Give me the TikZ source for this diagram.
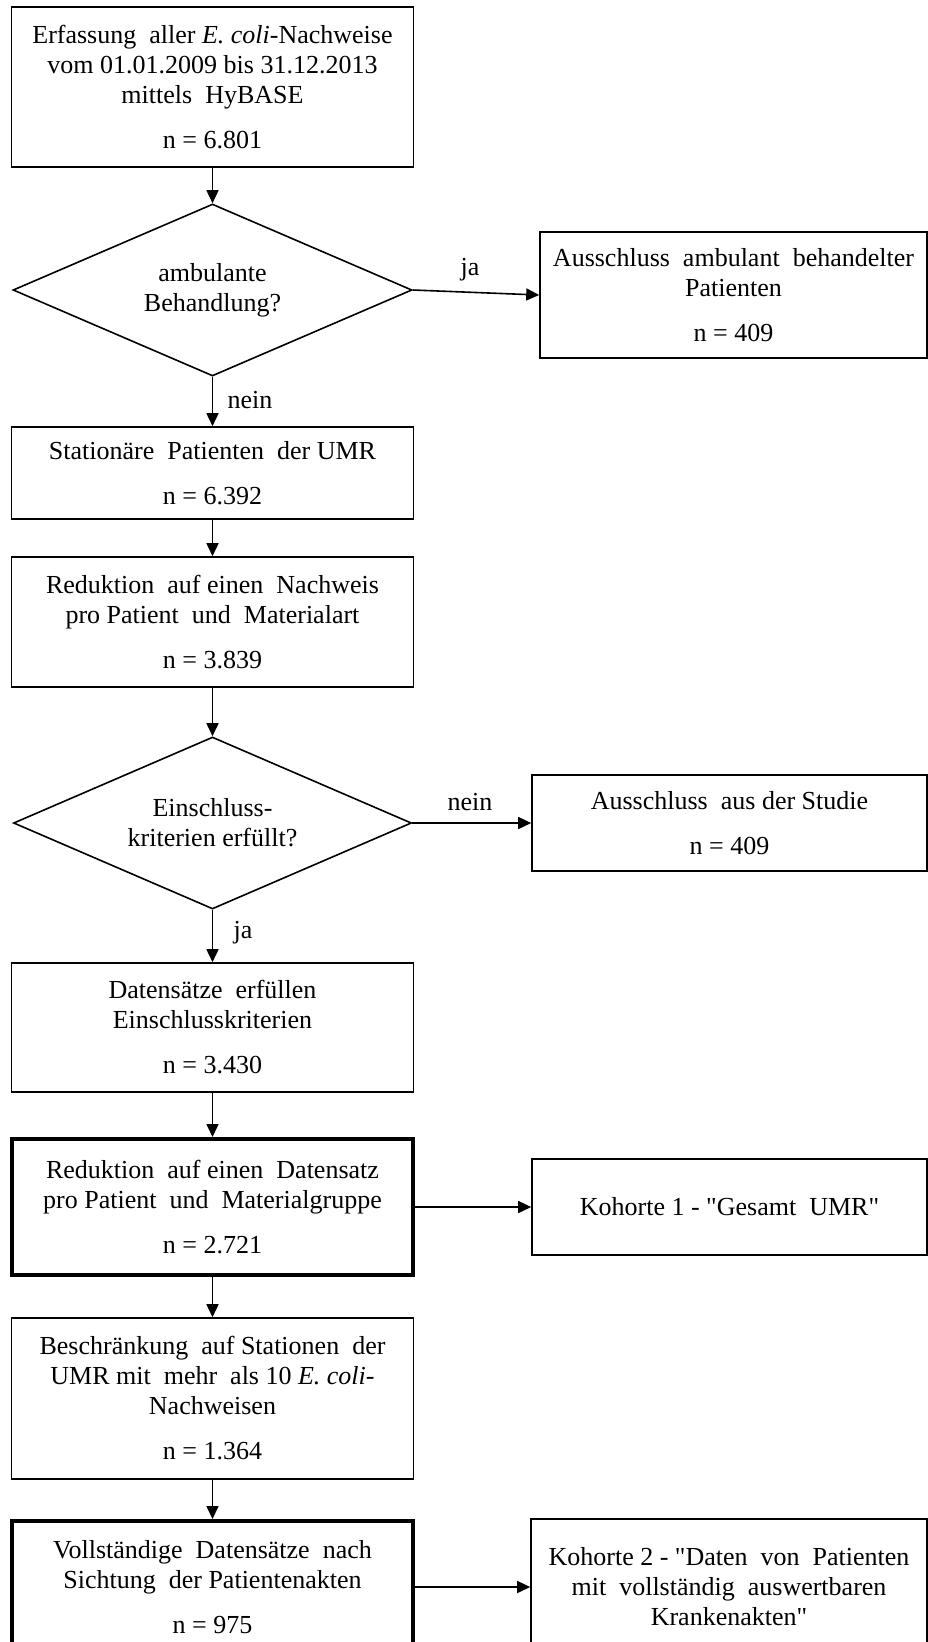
\documentclass[tikz,border=0pt]{standalone}
\usepackage{fontspec}
\setmainfont{Liberation Serif}
\newfontfamily\qfont{Liberation Serif}[Ligatures=TeXOff]
\usetikzlibrary{shapes.geometric,arrows.meta}
\newcommand{\sq}{{\qfont"}}
\tikzset{
  txt/.style={font=\fontsize{26}{30}\selectfont},
  box/.style={txt, draw, rectangle, line width=1.6pt, inner sep=0pt, align=center},
  thickbox/.style={box, line width=4pt},
  dec/.style={txt, draw, diamond, shape aspect=2.32, line width=1.6pt, inner sep=0pt, align=center},
  arr/.style={line width=1.6pt, -{Triangle[length=13pt,width=12pt]}},
  lab/.style={txt, inner sep=0pt}
}
\begin{document}
\begin{tikzpicture}[x=1pt,y=-1pt]
\useasboundingbox (0,0) rectangle (928,1642);
\clip (0,0) rectangle (928,1642);
\fill[white] (0,0) rectangle (928,1642);

% left column
\node[box, minimum width=402pt, minimum height=160pt] (b1) at (212.5,87)
  {Erfassung\ \ aller \textit{E. coli}-Nachweise\\vom 01.01.2009 bis 31.12.2013\\mittels\ \ HyBASE\\[15pt]n = 6.801};
\node[dec, minimum width=399pt, minimum height=172pt] (d1) at (212.5,290)
  {ambulante\\Behandlung?};
\node[box, minimum width=402pt, minimum height=92pt] (b2) at (212.5,473)
  {Station\"are\ \ Patienten\ \ der UMR\\[15pt]n = 6.392};
\node[box, minimum width=402pt, minimum height=130pt] (b3) at (212.5,622)
  {Reduktion\ \ auf einen\ \ Nachweis\\pro Patient\ \ und\ \ Materialart\\[15pt]n = 3.839};
\node[dec, minimum width=398pt, minimum height=172pt] (d2) at (212.5,823)
  {Einschluss-\\kriterien erf\"ullt?};
\node[box, minimum width=402pt, minimum height=129pt] (b4) at (212.5,1027.5)
  {Datens\"atze\ \ erf\"ullen\\Einschlusskriterien\\[15pt]n = 3.430};
\node[thickbox, minimum width=401pt, minimum height=136pt] (b5) at (212.5,1207)
  {Reduktion\ \ auf einen\ \ Datensatz\\pro Patient\ \ und\ \ Materialgruppe\\[15pt]n = 2.721};
\node[box, minimum width=402pt, minimum height=161pt] (b6) at (212.5,1398.5)
  {Beschr\"ankung\ \ auf Stationen\ \ der\\UMR mit\ \ mehr\ \ als 10 \textit{E. coli}-\\Nachweisen\\[15pt]n = 1.364};
\node[thickbox, minimum width=401pt, minimum height=132pt] (b7) at (212.5,1587)
  {Vollst\"andige\ \ Datens\"atze\ \ nach\\Sichtung\ \ der Patientenakten\\[15pt]n = 975};

% right column
\node[box, minimum width=387pt, minimum height=126pt] (e1) at (733.5,295)
  {Ausschluss\ \ ambulant\ \ behandelter\\Patienten\\[15pt]n = 409};
\node[box, minimum width=395pt, minimum height=96pt] (e2) at (729.5,823)
  {Ausschluss\ \ aus der Studie\\[15pt]n = 409};
\node[box, minimum width=395pt, minimum height=96pt] (k1) at (729.5,1207)
  {Kohorte 1 - \sq Gesamt\ \ UMR\sq};
\node[box, minimum width=396pt, minimum height=136pt] (k2) at (729,1587)
  {Kohorte 2 - \sq Daten\ \ von\ \ Patienten\\mit\ \ vollst\"andig\ \ auswertbaren\\Krankenakten\sq};

% labels
\node[lab] (l1) at (470,270) {ja};
\node[lab] (l2) at (250,400) {nein};
\node[lab] (l3) at (470,802) {nein};
\node[lab] (l4) at (243,933) {ja};

% connectors
\draw[arr] (b1.south) -- (d1.north);
\draw[arr] (d1.south) -- (b2.north);
\draw[arr] (b2.south) -- (b3.north);
\draw[arr] (b3.south) -- (d2.north);
\draw[arr] (d2.south) -- (b4.north);
\draw[arr] (b4.south) -- (b5.north);
\draw[arr] (b5.south) -- (b6.north);
\draw[arr] (b6.south) -- (b7.north);
\draw[arr] (d1.east) -- (e1.west);
\draw[arr] (d2.east) -- (e2.west);
\draw[arr] (b5.east) -- (k1.west);
\draw[arr] (b7.east) -- (k2.west);
\end{tikzpicture}
\end{document}
